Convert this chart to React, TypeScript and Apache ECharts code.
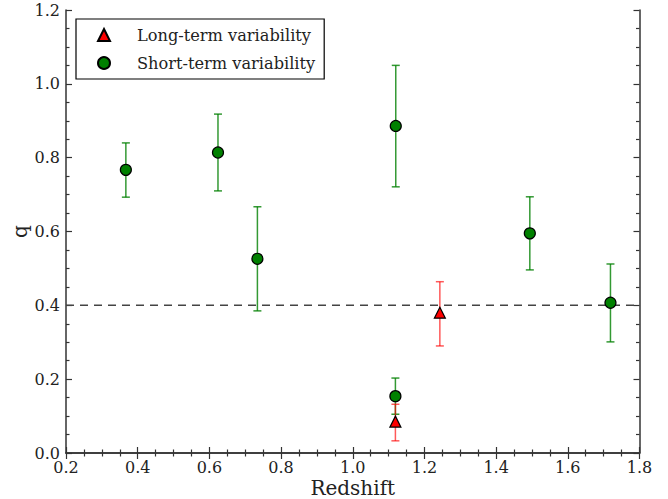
import React, { useEffect, useRef } from "react";
import * as echarts from "echarts";

// Short-term variability: redshift, q, lower bound, upper bound
const shortZ = [0.367, 0.624, 0.734, 1.12, 1.119, 1.494, 1.719];
const shortQ = [0.767, 0.814, 0.526, 0.886, 0.154, 0.595, 0.407];
const shortLow = [0.693, 0.71, 0.385, 0.721, 0.105, 0.496, 0.301];
const shortHigh = [0.84, 0.918, 0.667, 1.05, 0.203, 0.694, 0.512];

// Long-term variability
const longZ = [1.119, 1.243];
const longQ = [0.085, 0.38];
const longLow = [0.033, 0.29];
const longHigh = [0.132, 0.464];

const refLine = 0.4;
const xRange = [0.2, 1.8];
const yRange = [0, 1.2];

const FONT = "'DejaVu Serif', serif";

function errorSeries(z: number[], low: number[], high: number[], color: string) {
  const data = z.map((x, i) => [x, low[i], high[i]]);
  return {
    type: "custom",
    xAxisIndex: 0,
    yAxisIndex: 0,
    z: 2,
    silent: true,
    data,
    renderItem: (params: any, api: any) => {
      const x = api.value(0);
      const lo = api.coord([x, api.value(1)]);
      const hi = api.coord([x, api.value(2)]);
      const cap = 4;
      const style = { stroke: color, lineWidth: 1.5 };
      return {
        type: "group",
        children: [
          { type: "line", shape: { x1: lo[0], y1: lo[1], x2: hi[0], y2: hi[1] }, style },
          { type: "line", shape: { x1: lo[0] - cap, y1: lo[1], x2: lo[0] + cap, y2: lo[1] }, style },
          { type: "line", shape: { x1: hi[0] - cap, y1: hi[1], x2: hi[0] + cap, y2: hi[1] }, style },
        ],
      };
    },
  };
}

export default function App() {
  const ref = useRef<HTMLDivElement>(null);
  useEffect(() => {
    if (!ref.current) return;
    const chart = echarts.init(ref.current, undefined, { renderer: "svg" });
    const axisLine = { show: true, lineStyle: { color: "#333", width: 1.5 } };
    const axisTick = { show: true, inside: true, length: 6, lineStyle: { color: "#333", width: 1.2 } };
    const minorTick = { show: true, splitNumber: 4, length: 3.5, lineStyle: { color: "#333", width: 1.2 } };
    const labelStyle = { fontFamily: FONT, fontSize: 16, lineHeight: 16, color: "#222" };
    chart.setOption({
      animation: false,
      backgroundColor: "#fff",
      textStyle: { fontFamily: FONT },
      grid: {
        left: 66,
        right: 28.5,
        top: 10,
        bottom: 46,
        containLabel: false,
        outerBoundsMode: "none",
      },
      legend: {
        orient: "vertical",
        left: 76,
        top: 19,
        itemWidth: 12,
        itemHeight: 12,
        itemGap: 12,
        padding: [8, 9, 8, 21],
        borderColor: "#000",
        borderWidth: 1.2,
        borderRadius: 0,
        textStyle: { fontFamily: FONT, fontSize: 16.2, color: "#222", padding: [0, 0, 0, 22] },
        data: [
          { name: "Long-term variability", icon: "triangle" },
          { name: "Short-term variability", icon: "circle" },
        ],
      },
      xAxis: [
        {
          type: "value",
          min: xRange[0],
          max: xRange[1],
          interval: 0.2,
          position: "bottom",
          name: "Redshift",
          nameLocation: "middle",
          nameGap: 25,
          nameMoveOverlap: false,
          nameTextStyle: { fontFamily: FONT, fontSize: 20, lineHeight: 20, color: "#222" },
          axisLine,
          axisTick,
          minorTick,
          splitLine: { show: false },
          axisLabel: { ...labelStyle, margin: 6, formatter: (v: number) => v.toFixed(1) },
        },
        {
          type: "value",
          min: xRange[0],
          max: xRange[1],
          interval: 0.2,
          position: "top",
          axisLine,
          axisTick,
          minorTick,
          splitLine: { show: false },
          axisLabel: { show: false },
        },
      ],
      yAxis: [
        {
          type: "value",
          min: yRange[0],
          max: yRange[1],
          interval: 0.2,
          position: "left",
          name: "q",
          nameLocation: "middle",
          nameGap: 36,
          nameMoveOverlap: false,
          nameTextStyle: { fontFamily: FONT, fontSize: 20, color: "#222" },
          axisLine,
          axisTick,
          minorTick,
          splitLine: { show: false },
          axisLabel: { ...labelStyle, margin: 6, formatter: (v: number) => v.toFixed(1) },
        },
        {
          type: "value",
          min: yRange[0],
          max: yRange[1],
          interval: 0.2,
          position: "right",
          axisLine,
          axisTick,
          minorTick,
          splitLine: { show: false },
          axisLabel: { show: false },
        },
      ],
      series: [
        {
          type: "line",
          xAxisIndex: 0,
          yAxisIndex: 0,
          data: [
            [xRange[0], refLine],
            [xRange[1], refLine],
          ],
          symbol: "none",
          silent: true,
          z: 1,
          lineStyle: { color: "#444", width: 1.5, type: [8, 6] },
        },
        errorSeries(shortZ, shortLow, shortHigh, "rgba(0,128,0,0.8)"),
        errorSeries(longZ, longLow, longHigh, "rgba(255,0,0,0.65)"),
        {
          name: "Long-term variability",
          type: "scatter",
          xAxisIndex: 0,
          yAxisIndex: 0,
          symbol: "triangle",
          symbolSize: 11,
          z: 5,
          itemStyle: { color: "#ff0000", borderColor: "#000", borderWidth: 1.2, opacity: 1 },
          data: longZ.map((x, i) => [x, longQ[i]]),
        },
        {
          name: "Short-term variability",
          type: "scatter",
          xAxisIndex: 0,
          yAxisIndex: 0,
          symbol: "circle",
          symbolSize: 11,
          z: 5,
          itemStyle: { color: "#008000", borderColor: "#000", borderWidth: 1.2, opacity: 1 },
          data: shortZ.map((x, i) => [x, shortQ[i]]),
        },
      ],
    });
    return () => chart.dispose();
  }, []);
  return (
    <div
      ref={ref}
      style={{ position: "absolute", left: 0, top: 0, width: 668, height: 499 }}
    />
  );
}
